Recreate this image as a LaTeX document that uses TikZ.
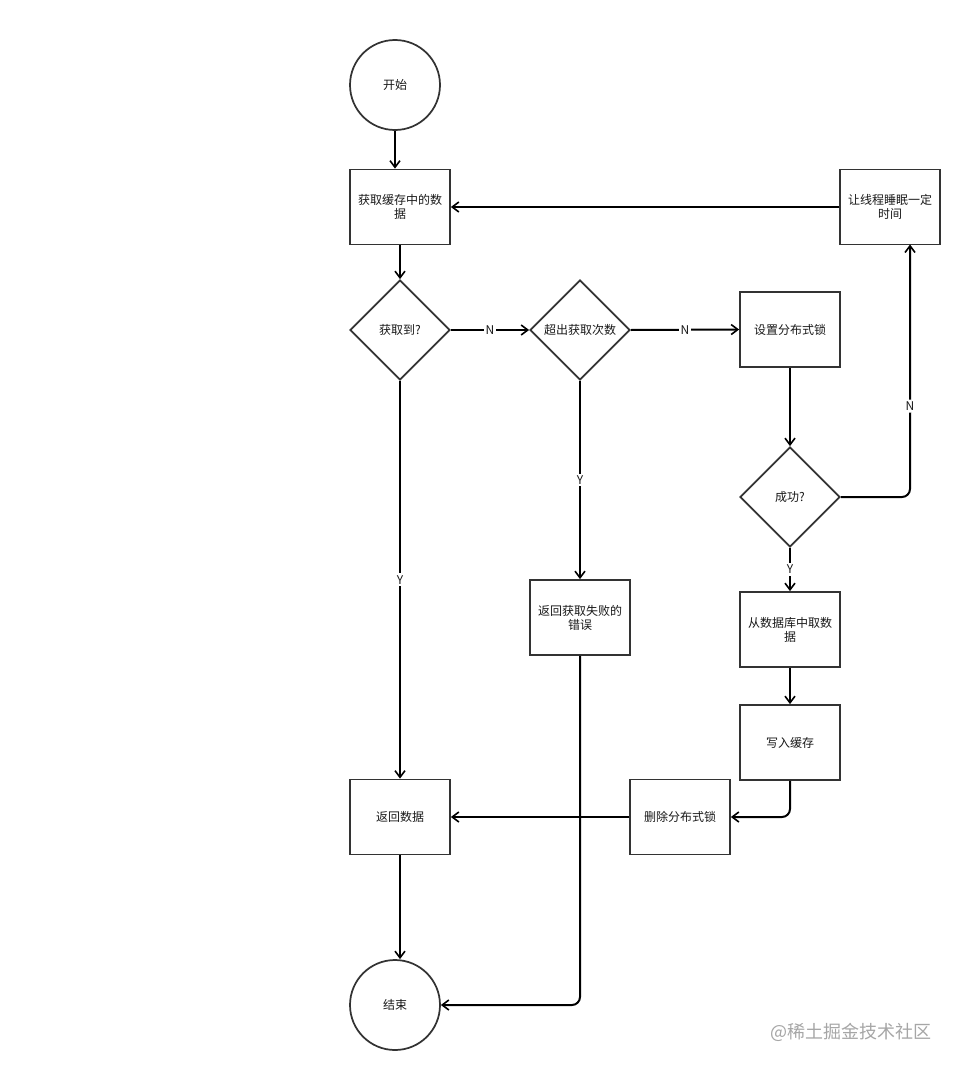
\documentclass[tikz,border=0pt]{standalone}
\usepackage{fontspec}
\setmainfont{Noto Sans CJK SC}
\usetikzlibrary{shapes.geometric,arrows.meta}
\tikzset{
  x=0.75pt,y=-0.75pt,
  every node/.style={font=\fontsize{9}{10.5}\selectfont, text=black!90},
  shapeline/.style={draw=black!80, line width=1.3pt, fill=white},
  boxnode/.style={shapeline, rectangle, minimum width=75pt, minimum height=56.25pt, inner sep=0pt, align=center},
  circnode/.style={shapeline, circle, minimum size=67.5pt, inner sep=0pt},
  decision/.style={shapeline, diamond, minimum width=75pt, minimum height=75pt, inner sep=0pt, aspect=1},
  arr/.style={draw=black, line width=1.5pt, -{Straight Barb[length=5pt,width=7.5pt,line width=1.2pt]}},
  lbl/.style={fill=white, inner sep=1.5pt, font=\fontsize{9}{10}\selectfont}
}
\begin{document}
\begin{tikzpicture}
\useasboundingbox (0,0) rectangle (960,1070);
\fill[white] (0,0) rectangle (960,1070);

\node[circnode] (start) at (395,85) {开始};
\node[boxnode] (box1) at (400,207) {获取缓存中的数\\据};
\node[decision] (d1) at (400,330) {获取到?};
\node[decision] (d2) at (580,330) {超出获取次数};
\node[boxnode] (lock) at (790,329.5) {设置分布式锁};
\node[boxnode] (sleep) at (890,207) {让线程睡眠一定\\时间};
\node[decision] (d3) at (790,497) {成功?};
\node[boxnode] (fromdb) at (790,629.5) {从数据库中取数\\据};
\node[boxnode] (write) at (790,742.5) {写入缓存};
\node[boxnode] (del) at (680,817) {删除分布式锁};
\node[boxnode] (ret) at (400,817) {返回数据};
\node[boxnode] (fail) at (580,617.5) {返回获取失败的\\错误};
\node[circnode] (end) at (395,1005) {结束};
\coordinate (sleepin) at (910,244.5);
\coordinate (turn) at (910,497);

\draw[arr] (start.south) -- (start.south |- box1.north);
\draw[arr] (box1) -- (d1);
\draw[arr] (d1.east) -- node[lbl]{N} (d2.west);
\draw[arr] (d2.east) -- node[lbl]{N} (lock.west);
\draw[arr] (d1.south) -- node[lbl]{Y} (ret.north);
\draw[arr] (d2.south) -- node[lbl]{Y} (fail.north);
\draw[arr] (lock) -- (d3);
\draw[arr,rounded corners=6pt] (d3.east) -- (turn) -- node[lbl,pos=0.36]{N} (sleepin);
\draw[arr] (sleep.west) -- (box1.east);
\draw[arr] (d3.south) -- node[lbl]{Y} (fromdb.north);
\draw[arr] (fromdb) -- (write);
\draw[arr,rounded corners=6pt] (write.south) |- (del.east);
\draw[arr] (del.west) -- (ret.east);
\draw[arr] (ret.south) -- (ret.south |- end.north);
\draw[arr,rounded corners=6pt] (fail.south) |- (end.east);

\node[font=\fontsize{13.5}{15}\selectfont, text=black!35] (wm) at (851,1032) {@稀土掘金技术社区};
\end{tikzpicture}
\end{document}
